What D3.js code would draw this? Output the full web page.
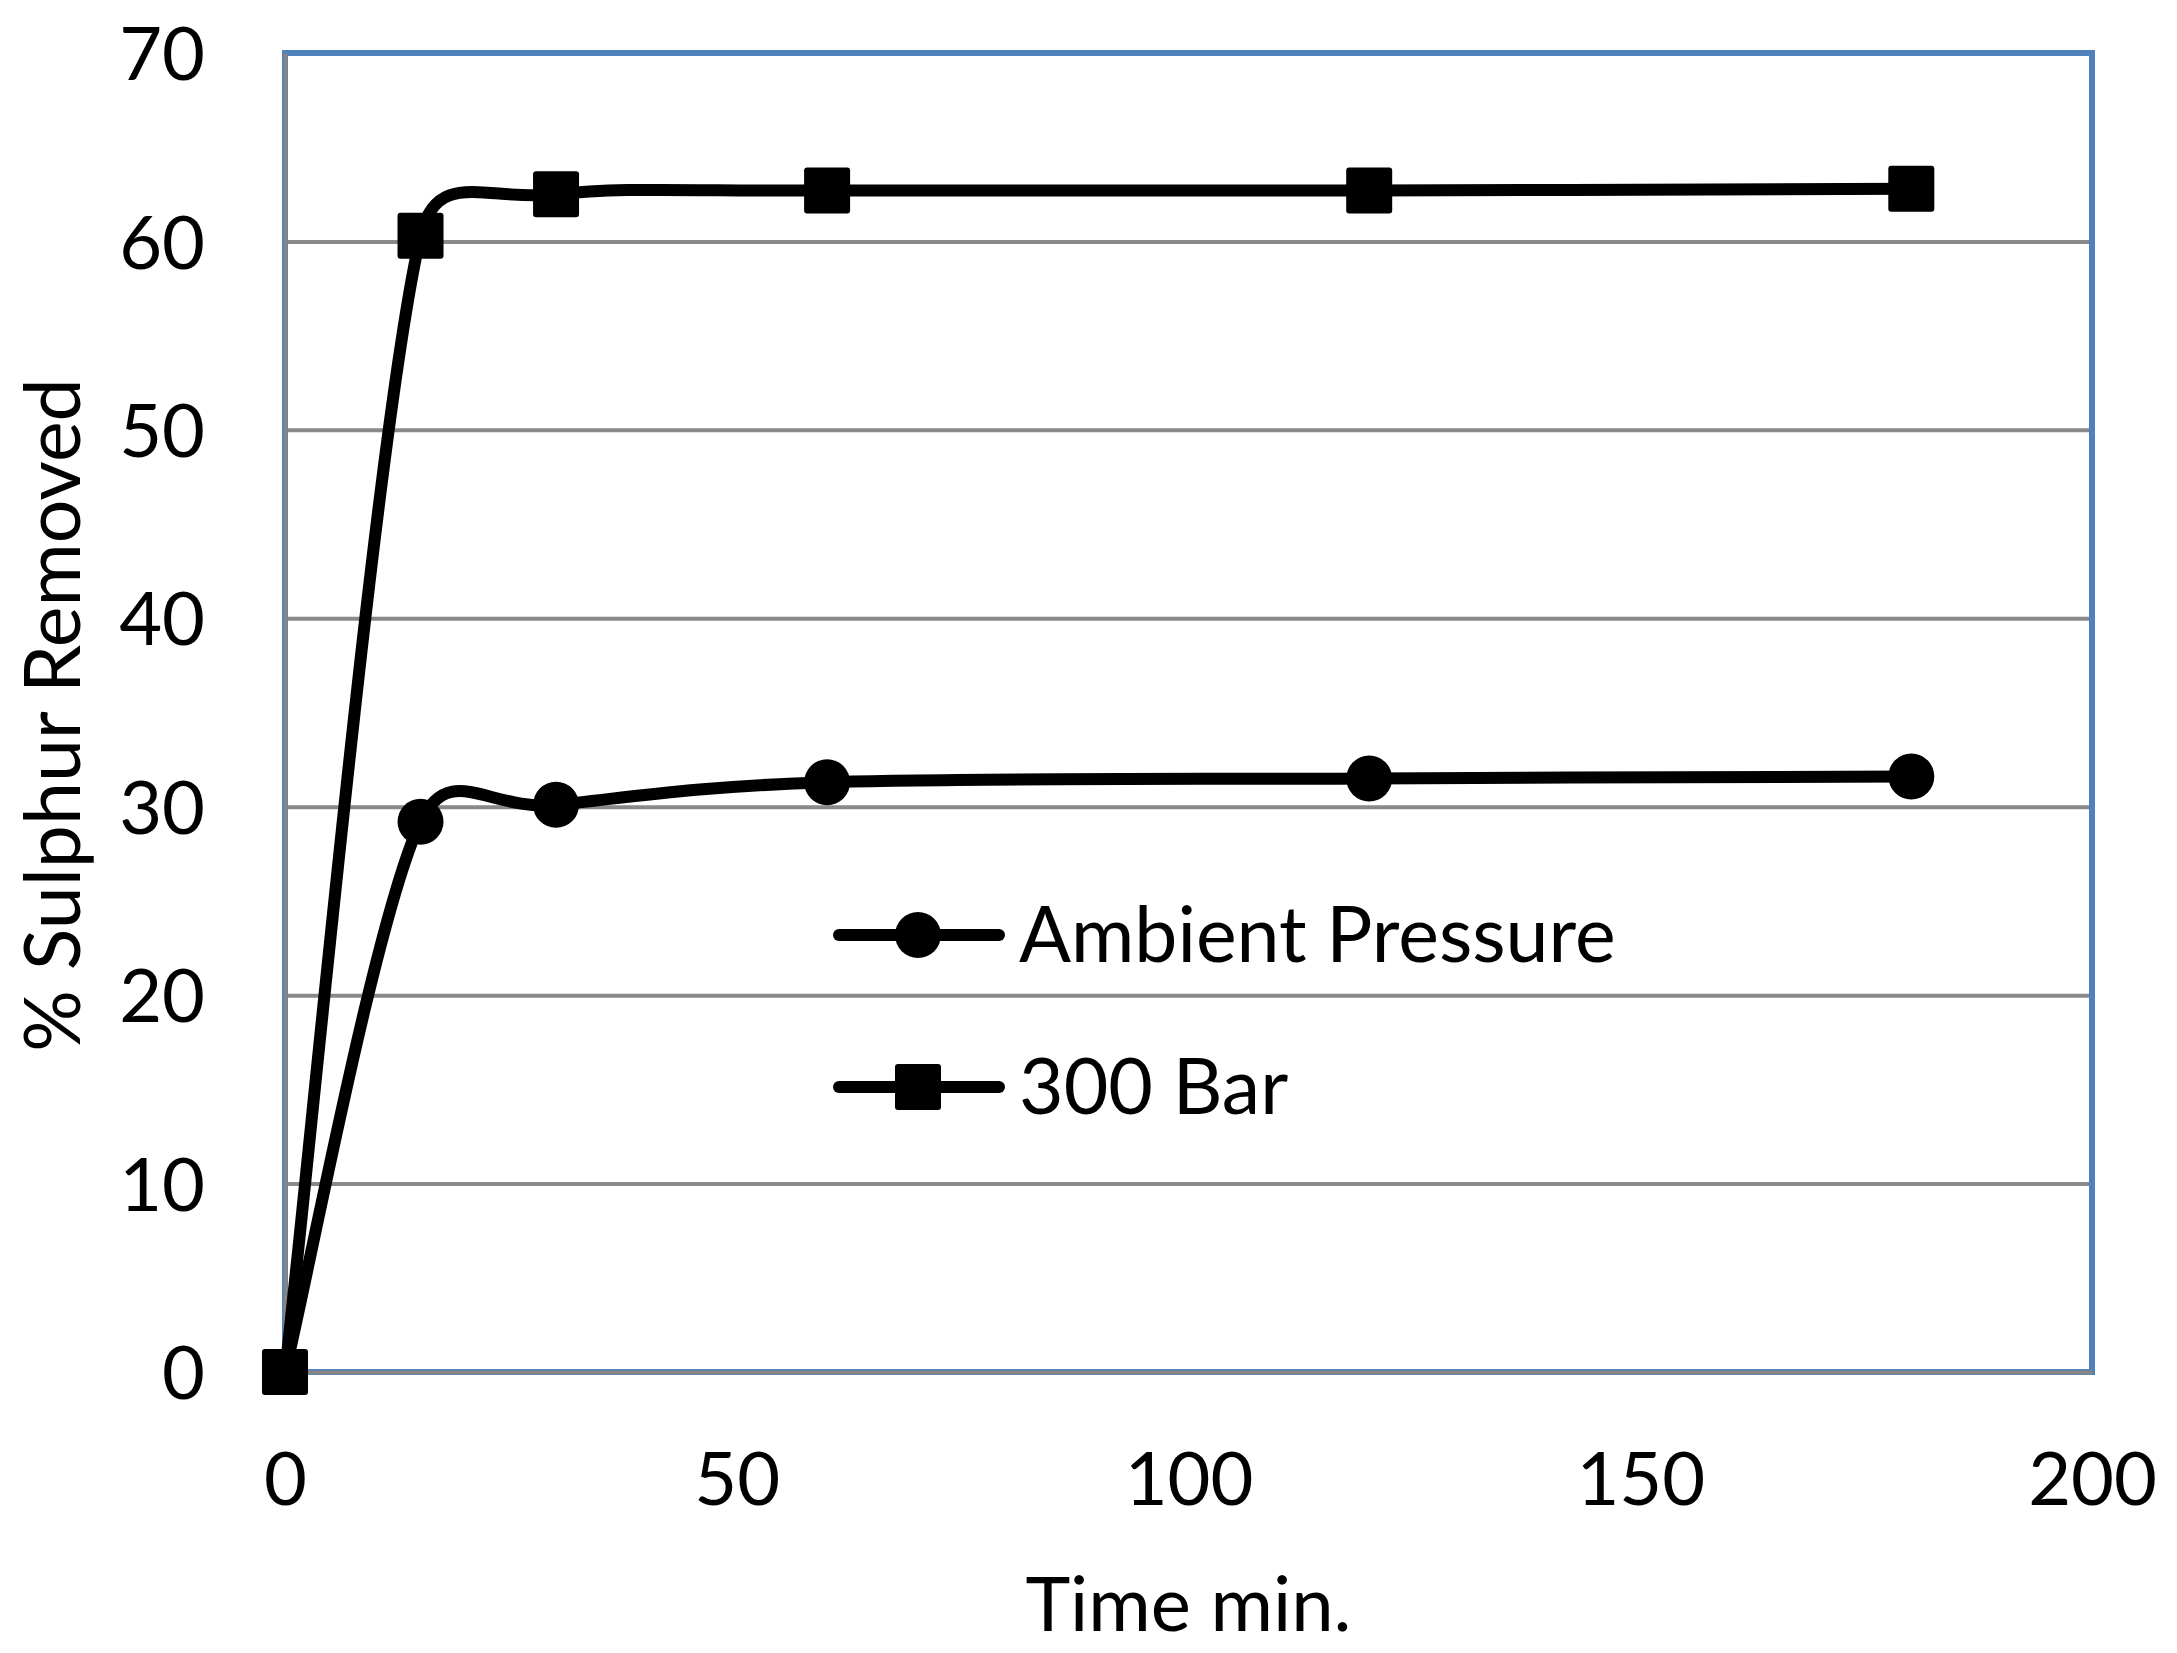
<!DOCTYPE html>
<html>
<head>
<meta charset="utf-8">
<script src="https://cdn.jsdelivr.net/npm/d3@7"></script>
<style>
  body { margin: 0; background: #fff; }
  text { font-family: Lato, "Open Sans", sans-serif; fill: #000; }
</style>
</head>
<body>
<svg id="chart"></svg>
<script>
// values
var times = [0, 15, 30, 60, 120, 180];
var ambient = [0, 29.2, 30.1, 31.3, 31.5, 31.6];
var bar300 = [0, 60.3, 62.5, 62.7, 62.7, 62.8];
var seriesNames = ["Ambient Pressure", "300 Bar"];
var xTicks = [0, 50, 100, 150, 200];
var yTicks = [0, 10, 20, 30, 40, 50, 60, 70];

var width = 2177;
var height = 1653;
var margin = {left: 285, right: 85, top: 53, bottom: 281};
var plotW = width - margin.left - margin.right;
var plotH = height - margin.top - margin.bottom;

var svg = d3.select("#chart")
            .attr("width", width)
            .attr("height", height);

svg.append("rect")
   .attr("width", width)
   .attr("height", height)
   .attr("fill", "white");

var g = svg.append("g")
           .attr("transform", "translate(" + margin.left + "," + margin.top + ")");

var x = d3.scaleLinear().domain([0, 200]).range([0, plotW]);
var y = d3.scaleLinear().domain([0, 70]).range([plotH, 0]);

// gridlines
g.append("g")
 .attr("class", "grid")
 .call(d3.axisLeft(y).tickValues(yTicks.slice(1, -1)).tickSize(-plotW).tickFormat(""))
 .call(function(s) {
   s.select(".domain").remove();
   s.selectAll("line").attr("stroke", "#898989").attr("stroke-width", 4);
 });

// plot border
g.append("rect")
 .attr("width", plotW)
 .attr("height", plotH)
 .attr("fill", "none")
 .attr("stroke", "#4F81BD")
 .attr("stroke-width", 6);

// axes
g.append("g")
 .call(d3.axisLeft(y).tickValues(yTicks).tickSize(0).tickPadding(80))
 .call(function(s) {
   s.select(".domain").attr("stroke", "#868686").attr("stroke-width", 4);
   s.selectAll("text")
    .attr("dy", "0.36em")
    .style("font-family", "Lato, 'Open Sans', sans-serif")
    .style("font-size", "74px")
    .attr("fill", "#000");
 });

g.append("g")
 .attr("transform", "translate(0," + plotH + ")")
 .call(d3.axisBottom(x).tickValues(xTicks).tickSize(0).tickPadding(133))
 .call(function(s) {
   s.select(".domain").attr("stroke", "#868686").attr("stroke-width", 4);
   s.selectAll("text")
    .attr("dy", "0")
    .style("font-family", "Lato, 'Open Sans', sans-serif")
    .style("font-size", "74px")
    .attr("fill", "#000");
 });

// axis titles
svg.append("text")
   .attr("x", margin.left + plotW / 2)
   .attr("y", 1631)
   .attr("text-anchor", "middle")
   .style("font-size", "76px")
   .text("Time min.");

svg.append("text")
   .attr("transform", "translate(80,715) rotate(-90)")
   .attr("text-anchor", "middle")
   .style("font-size", "77px")
   .text("% Sulphur Removed");

// spreadsheet style smoothing: bezier arms 1/6 of neighbour span,
// capped at half the segment length
function dist(a, b) {
  return Math.sqrt((a[0] - b[0]) * (a[0] - b[0]) + (a[1] - b[1]) * (a[1] - b[1]));
}

function smoothPath(data) {
  var pts = data.map(function(d) { return [x(d.t), y(d.v)]; });
  var p = d3.path();
  p.moveTo(pts[0][0], pts[0][1]);
  for (var i = 0; i < pts.length - 1; i++) {
    var p0 = pts[i > 0 ? i - 1 : i];
    var p1 = pts[i];
    var p2 = pts[i + 1];
    var p3 = pts[i + 2 < pts.length ? i + 2 : i + 1];
    var d12 = dist(p1, p2);
    var d02 = dist(p0, p2);
    var d13 = dist(p1, p3);
    var f1 = 1 / 6, f2 = 1 / 6;
    if (d02 / 6 >= d12 / 2 && d02 > 0) f1 = d12 / (2 * d02);
    if (d13 / 6 >= d12 / 2 && d13 > 0) f2 = d12 / (2 * d13);
    p.bezierCurveTo(
      p1[0] + (p2[0] - p0[0]) * f1, p1[1] + (p2[1] - p0[1]) * f1,
      p2[0] - (p3[0] - p1[0]) * f2, p2[1] - (p3[1] - p1[1]) * f2,
      p2[0], p2[1]);
  }
  return p.toString();
}

var ambData = times.map(function(t, i) { return {t: t, v: ambient[i]}; });
var barData = times.map(function(t, i) { return {t: t, v: bar300[i]}; });

[ambData, barData].forEach(function(data) {
  g.append("path")
   .datum(data)
   .attr("d", smoothPath)
   .attr("fill", "none")
   .attr("stroke", "#000")
   .attr("stroke-width", 12)
   .attr("stroke-linejoin", "round");
});

g.selectAll("circle.amb")
 .data(ambData)
 .enter()
 .append("circle")
 .attr("class", "amb")
 .attr("cx", function(d) { return x(d.t); })
 .attr("cy", function(d) { return y(d.v); })
 .attr("r", 23)
 .attr("fill", "#000");

g.selectAll("rect.bar")
 .data(barData)
 .enter()
 .append("rect")
 .attr("class", "bar")
 .attr("x", function(d) { return x(d.t) - 23; })
 .attr("y", function(d) { return y(d.v) - 23; })
 .attr("width", 46)
 .attr("height", 46)
 .attr("rx", 3)
 .attr("fill", "#000");

// legend
var legend = svg.append("g");
var legY = [935, 1087];

seriesNames.forEach(function(name, i) {
  var ly = legY[i];
  legend.append("line")
        .attr("x1", 839).attr("x2", 999)
        .attr("y1", ly).attr("y2", ly)
        .attr("stroke", "#000")
        .attr("stroke-width", 12)
        .attr("stroke-linecap", "round");
  if (i == 0) {
    legend.append("circle")
          .attr("cx", 918).attr("cy", ly).attr("r", 23)
          .attr("fill", "#000");
  } else {
    legend.append("rect")
          .attr("x", 895).attr("y", ly - 23)
          .attr("width", 46).attr("height", 46)
          .attr("rx", 3)
          .attr("fill", "#000");
  }
  legend.append("text")
        .attr("x", 1019)
        .attr("y", ly + 27)
        .style("font-size", "77px")
        .text(name);
});
</script>
</body>
</html>
